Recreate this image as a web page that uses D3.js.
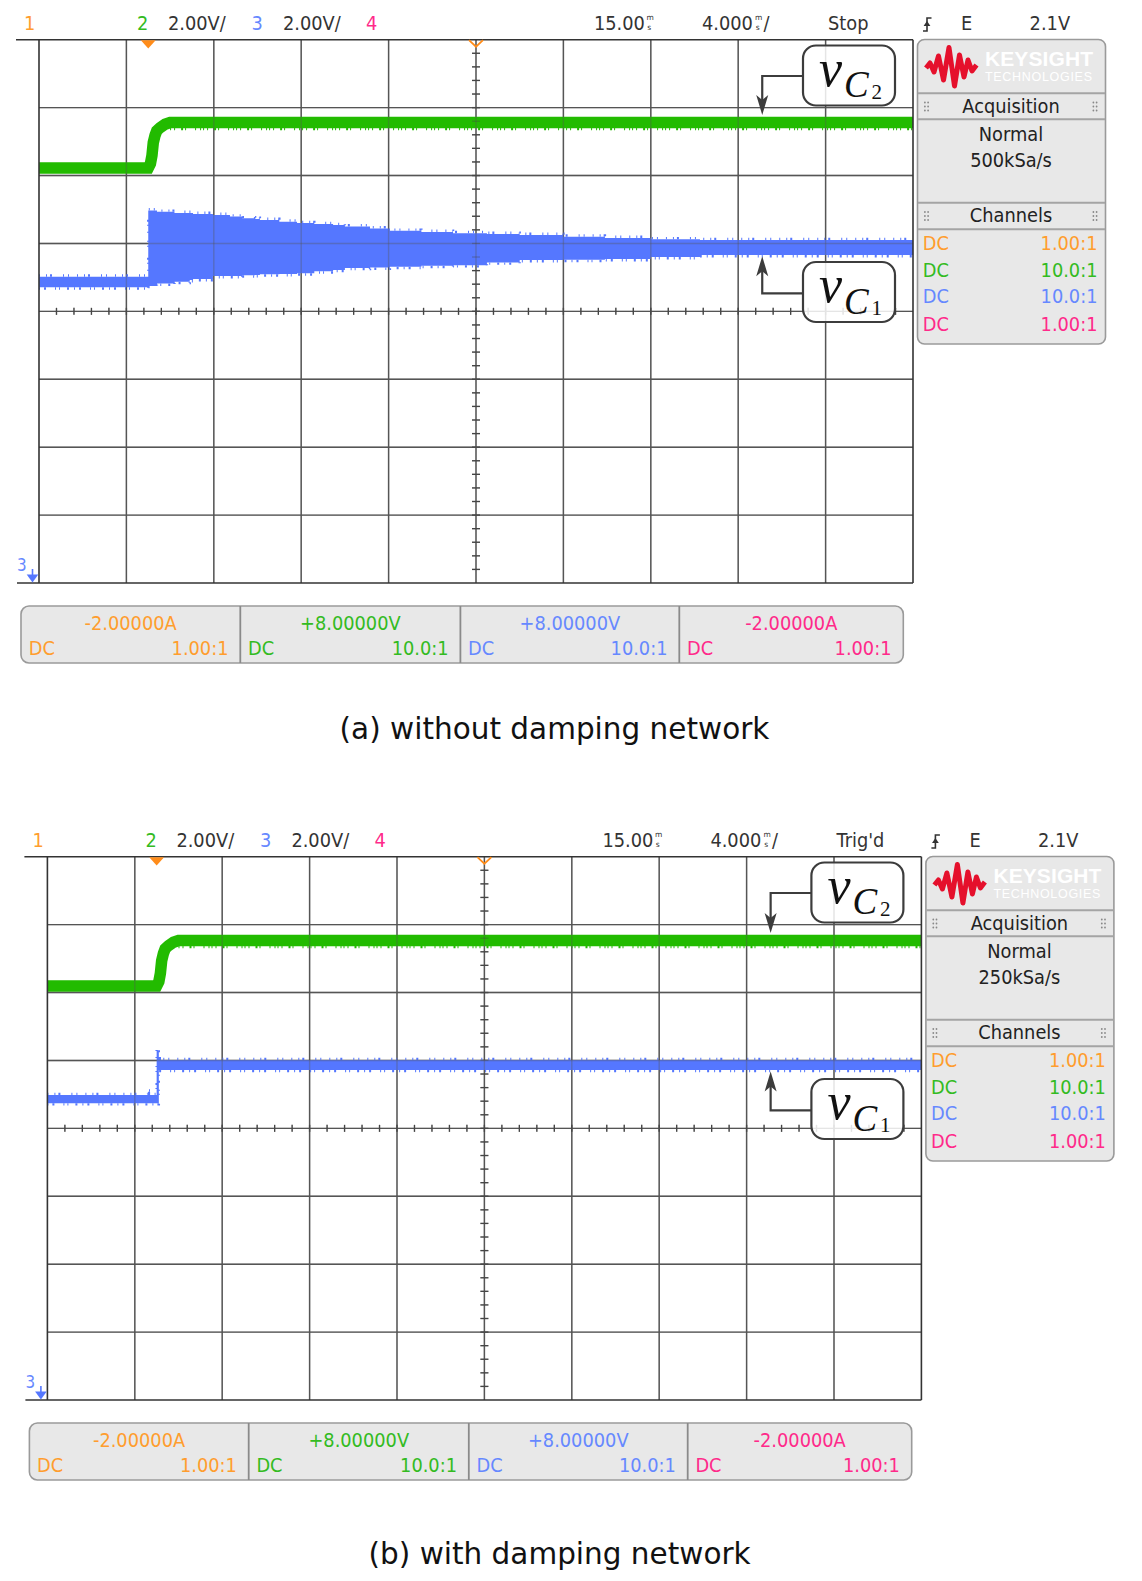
<!DOCTYPE html>
<html>
<head>
<meta charset="utf-8">
<script src="https://cdn.jsdelivr.net/npm/d3@7"></script>
<style>
  body { margin: 0; background: #fff; }
  .scope { font-family: "DejaVu Sans", sans-serif; }
</style>
</head>
<body>
<div class="board"></div>
<script>
// two scope captures, same settings: 4 ms/div (delay 15 ms), ch2/ch3 2 V/div, offset 8 V

var timeDivs = [-5, -1, 3, 7, 11, 15, 19, 23, 27, 31, 35];   // ms
var voltDivs = [0, 2, 4, 6, 8, 10, 12, 14, 16];              // V

// (a) without damping network
var greenT_a = [-5, 0, 0.1, 0.17, 0.23, 0.31, 0.39, 0.54, 0.77, 1.0, 35];
var greenV_a = [12.22, 12.22, 12.35, 12.59, 12.97, 13.18, 13.32, 13.41, 13.51, 13.56, 13.56];
var blueT_a  = [-5, 0, 0.4, 1.2, 1.9, 2.05, 2.96, 3.74, 4.3, 4.89, 5.11, 6.0, 6.81, 7.6, 8.46, 9.0, 10.15, 11.06, 12.5, 13.95, 15.5, 17.0, 19.0, 20.9, 23.0, 25.25, 35];
var blueHi_a = [9.02, 10.97, 10.93, 10.9, 10.9, 10.87, 10.84, 10.79, 10.74, 10.72, 10.69, 10.64, 10.6, 10.57, 10.54, 10.5, 10.44, 10.37, 10.34, 10.3, 10.28, 10.25, 10.2, 10.16, 10.12, 10.1, 10.07];
var blueLo_a = [8.71, 8.75, 8.82, 8.87, 8.92, 8.95, 9.04, 9.04, 9.06, 9.07, 9.09, 9.1, 9.12, 9.18, 9.22, 9.28, 9.29, 9.31, 9.34, 9.36, 9.44, 9.51, 9.52, 9.54, 9.6, 9.66, 9.67];

// (b) with damping network
var greenT_b = [-5, 0, 0.1, 0.17, 0.23, 0.31, 0.39, 0.54, 0.77, 1.0, 35];
var greenV_b = [12.19, 12.19, 12.32, 12.56, 12.94, 13.15, 13.29, 13.38, 13.48, 13.53, 13.53];
var blueT_b  = [-5, -0.4, -0.3, 0, 0.1, 0.2, 35];
var blueHi_b = [8.98, 9.08, 8.98, 10.28, 10.1, 10.01, 10.01];
var blueLo_b = [8.74, 8.74, 8.74, 8.74, 9.72, 9.72, 9.72];

var captions   = ["(a) without damping network", "(b) with damping network"];
var runState   = ["Stop", "Trig'd"];
var sampleRate = ["500kSa/s", "250kSa/s"];
var chanOffset = ["-2.00000A", "+8.00000V", "+8.00000V", "-2.00000A"];
var chanProbe  = ["1.00:1", "10.0:1", "10.0:1", "1.00:1"];
var chanColor  = ["#ff9d2e", "#33bb22", "#6688ff", "#ff2a8a"];

var green = "#22bb00", blue = "#5577ff", orange = "#ff8c1a";

var svg = d3.select(".board").append("svg")
  .attr("width", 1142)
  .attr("height", 1581);

var W = 874, H = 543.3;
var x = d3.scaleLinear().domain([-5, 35]).range([0, W]);
var y = d3.scaleLinear().domain([0, 16]).range([H, 0]);

var screens = [
  {ox: 0, oy: 0, gT: greenT_a, gV: greenV_a, bT: blueT_a, bHi: blueHi_a, bLo: blueLo_a},
  {ox: 8.4, oy: 817, gT: greenT_b, gV: greenV_b, bT: blueT_b, bHi: blueHi_b, bLo: blueLo_b}
];

// scope font is narrow: squeeze dejavu horizontally around the anchor point
function txt(g, xx, yy, str, col, anchor, size) {
  return g.append("text")
    .attr("x", xx).attr("y", yy)
    .attr("transform", "translate(" + xx + ",0) scale(0.89,1) translate(" + (-xx) + ",0)")
    .attr("text-anchor", anchor || "start")
    .attr("font-size", size || 20)
    .attr("fill", col || "#333")
    .text(str);
}

function stacked(g, xx) {   // the little m-over-s unit glyph
  g.append("text").attr("x", xx).attr("y", 20.2).attr("font-size", 7.5).attr("fill", "#333").text("m");
  g.append("text").attr("x", xx + 0.8).attr("y", 30).attr("font-size", 7.5).attr("fill", "#333").text("s");
}

function dots(g, cx, cy) {
  [-1.6, 1.6].forEach(function(dx) {
    [-4, 0, 4].forEach(function(dy) {
      g.append("circle").attr("cx", cx + dx).attr("cy", cy + dy).attr("r", 0.9).attr("fill", "#888");
    });
  });
}

function arrowHead(g, tx, ty, dir) {   // dir 1 = pointing down, -1 = up
  var p = "M" + tx + "," + ty +
    "L" + (tx - 6) + "," + (ty - dir * 20) +
    "L" + tx + "," + (ty - dir * 15) +
    "L" + (tx + 6) + "," + (ty - dir * 20) + "Z";
  g.append("path").attr("d", p).attr("fill", "#3c3c3c");
}

function label(g, bx, by, sub) {
  g.append("rect").attr("x", bx).attr("y", by).attr("width", 92).attr("height", 60)
    .attr("rx", 13).attr("fill", "#fff").attr("fill-opacity", 0.85)
    .attr("stroke", "#3c3c3c").attr("stroke-width", 2.2);
  var t = g.append("g").attr("font-family", "'Liberation Serif', 'DejaVu Serif', serif");
  t.append("text").attr("x", bx + 16).attr("y", by + 40).attr("font-size", 52).attr("font-style", "italic").attr("fill", "#111").text("v");
  t.append("text").attr("x", bx + 41).attr("y", by + 51.7).attr("font-size", 37).attr("font-style", "italic").attr("fill", "#111").text("C");
  t.append("text").attr("x", bx + 68.5).attr("y", by + 53.3).attr("font-size", 21).attr("fill", "#111").text(sub);
}

screens.forEach(function(s, k) {
  var root = svg.append("g").attr("class", "scope")
    .attr("transform", "translate(" + s.ox + "," + s.oy + ")");

  // header line
  var hd = root.append("g");
  txt(hd, 24, 30, "1", chanColor[0]);
  txt(hd, 137, 30, "2", chanColor[1]);
  txt(hd, 168, 30, "2.00V/");
  txt(hd, 251.6, 30, "3", chanColor[2]);
  txt(hd, 283, 30, "2.00V/");
  txt(hd, 366, 30, "4", chanColor[3]);
  txt(hd, 594, 30, "15.00");
  stacked(hd, 646.5);
  txt(hd, 702, 30, "4.000");
  stacked(hd, 755);
  txt(hd, 763.5, 30, "/");
  txt(hd, 828, 30, runState[k]);
  hd.append("path").attr("d", "M923,31h4v-13h4.5M927,18v5")
    .attr("fill", "none").attr("stroke", "#333").attr("stroke-width", 1.6);
  hd.append("path").attr("d", "M923.6,26l3.4,-5l3.4,5z").attr("fill", "#333");
  txt(hd, 961, 30, "E");
  txt(hd, 1029.6, 30, "2.1V");

  // screen
  var plot = root.append("g").attr("transform", "translate(39,39.7)");
  var clipId = "clip" + k;
  plot.append("clipPath").attr("id", clipId).append("rect").attr("width", W).attr("height", H);

  function drawGrid(g, op) {
    g.selectAll(".vl").data(timeDivs.slice(1, -1)).enter().append("line")
      .attr("x1", function(d) { return x(d); }).attr("x2", function(d) { return x(d); })
      .attr("y1", 0).attr("y2", H)
      .attr("stroke", "#555").attr("stroke-width", 1.4).attr("opacity", op);
    g.selectAll(".hl").data(voltDivs.slice(1, -1)).enter().append("line")
      .attr("y1", function(d) { return y(d); }).attr("y2", function(d) { return y(d); })
      .attr("x1", 0).attr("x2", W)
      .attr("stroke", "#555").attr("stroke-width", 1.4).attr("opacity", op);
    g.selectAll(".vt").data(d3.range(0.4, 16, 0.4)).enter().append("line")
      .attr("x1", x(15) - 4).attr("x2", x(15) + 4)
      .attr("y1", function(d) { return y(d); }).attr("y2", function(d) { return y(d); })
      .attr("stroke", "#444").attr("stroke-width", 1.3).attr("opacity", op);
    g.selectAll(".ht").data(d3.range(-4.2, 35, 0.8)).enter().append("line")
      .attr("y1", y(8) - 3.5).attr("y2", y(8) + 3.5)
      .attr("x1", function(d) { return x(d); }).attr("x2", function(d) { return x(d); })
      .attr("stroke", "#444").attr("stroke-width", 1.3).attr("opacity", op);
  }

  drawGrid(plot.append("g"), 1);

  var traces = plot.append("g").attr("clip-path", "url(#" + clipId + ")");

  var blueData = s.bT.map(function(t, i) { return {t: t, hi: s.bHi[i], lo: s.bLo[i]}; });
  var area = d3.area().curve(d3.curveStepAfter)
    .x(function(d) { return x(d.t); })
    .y0(function(d) { return y(d.lo); })
    .y1(function(d) { return y(d.hi); });
  traces.append("path").datum(blueData).attr("d", area).attr("fill", blue);
  var hiEdge = d3.line().curve(d3.curveStepAfter)
    .x(function(d) { return x(d.t); }).y(function(d) { return y(d.hi) - 1.2; });
  var loEdge = d3.line().curve(d3.curveStepAfter)
    .x(function(d) { return x(d.t); }).y(function(d) { return y(d.lo) + 1.2; });
  traces.append("path").datum(blueData).attr("d", hiEdge)
    .attr("fill", "none").attr("stroke", blue).attr("stroke-width", 2.4)
    .attr("stroke-dasharray", "1 6 1 3 2 11 1 4 1 8");
  traces.append("path").datum(blueData).attr("d", loEdge)
    .attr("fill", "none").attr("stroke", blue).attr("stroke-width", 2.4)
    .attr("stroke-dasharray", "1 4 2 9 1 3 1 7 2 5");

  var greenData = s.gT.map(function(t, i) { return {t: t, v: s.gV[i]}; });
  var gLine = d3.line().x(function(d) { return x(d.t); }).y(function(d) { return y(d.v); });
  traces.append("path").datum(greenData).attr("d", gLine)
    .attr("fill", "none").attr("stroke", green).attr("stroke-width", 11.5);
  var gEdge = d3.line().x(function(d) { return x(d.t); }).y(function(d) { return y(d.v) + 6.6; });
  traces.append("path").datum(greenData.filter(function(d) { return d.t >= 1; })).attr("d", gEdge)
    .attr("fill", "none").attr("stroke", green).attr("stroke-width", 2.4)
    .attr("stroke-dasharray", "1 3 1 6 2 2 1 9 1 4 1 2");

  drawGrid(plot.append("g"), 0.35);

  // frame
  var fr = plot.append("g").attr("stroke", "#333").attr("stroke-width", 1.6);
  fr.append("line").attr("x1", -23).attr("x2", W).attr("y1", 0).attr("y2", 0);
  fr.append("line").attr("x1", -22).attr("x2", W).attr("y1", H).attr("y2", H);
  fr.append("line").attr("x1", 0).attr("x2", 0).attr("y1", 0).attr("y2", H);
  fr.append("line").attr("x1", W).attr("x2", W).attr("y1", 0).attr("y2", H);

  // trigger point and time reference markers
  plot.append("path").attr("d", "M" + (x(0) - 7.4) + ",0.5h14.8l-7.4,8.3z").attr("fill", orange);
  plot.append("path").attr("d", "M" + (x(15) - 7) + ",0.5l7,6.5l7,-6.5")
    .attr("fill", "none").attr("stroke", orange).attr("stroke-width", 1.8);

  // ground marker of ch3 (off screen below)
  txt(plot, -22, H - 11.5, "3", chanColor[2], "start", 17);
  plot.append("path").attr("d", "M-6.5," + (H - 14) + "v6").attr("stroke", blue).attr("stroke-width", 1.6);
  plot.append("path").attr("d", "M-12.3," + (H - 8.5) + "h11.6l-5.8,8z").attr("fill", blue);

  // annotations
  var an = root.append("g").attr("stroke-linejoin", "miter");
  var tip2 = y(s.gV[s.gV.length - 1]) + 39.7 - 7.5;
  var tip1 = y(s.bLo[s.bLo.length - 1]) + 39.7 + 1.5;
  var ax = x(28.1) + 39;
  an.append("path").attr("d", "M803,76H" + ax + "V" + (tip2 - 12))
    .attr("fill", "none").attr("stroke", "#3c3c3c").attr("stroke-width", 2.2);
  arrowHead(an, ax, tip2, 1);
  an.append("path").attr("d", "M803,293.3H" + ax + "V" + (tip1 + 12))
    .attr("fill", "none").attr("stroke", "#3c3c3c").attr("stroke-width", 2.2);
  arrowHead(an, ax, tip1, -1);
  label(an, 803, 45.5, "2");
  label(an, 803, 262, "1");

  // right info panel
  var pn = root.append("g");
  pn.append("rect").attr("x", 917.5).attr("y", 39.5).attr("width", 188).attr("height", 304.5)
    .attr("rx", 7).attr("fill", "#e8e8e8").attr("stroke", "#9a9a9a").attr("stroke-width", 1.6);
  [93.3, 119.3, 202.7, 229.3].forEach(function(yy) {
    pn.append("line").attr("x1", 918).attr("x2", 1105).attr("y1", yy).attr("y2", yy)
      .attr("stroke", "#a4a4a4").attr("stroke-width", 2);
  });
  pn.append("path")
    .attr("d", "M926,68L930,63L934,72L938.5,56L943.5,80L949,47.5L954.5,86L959.5,55L964,77L968,60L972,71L976.5,65")
    .attr("fill", "none").attr("stroke", "#e5102c").attr("stroke-width", 5).attr("stroke-linejoin", "round");
  pn.append("text").attr("x", 985).attr("y", 65.5).attr("font-family", "'Liberation Sans', Arial, sans-serif")
    .attr("font-weight", "bold").attr("font-size", 21).attr("textLength", 108).attr("fill", "#fff").text("KEYSIGHT");
  pn.append("text").attr("x", 985).attr("y", 80.7).attr("font-family", "'Liberation Sans', Arial, sans-serif")
    .attr("font-size", 12.5).attr("textLength", 107).attr("fill", "#fff").text("TECHNOLOGIES");
  txt(pn, 1011, 113, "Acquisition", "#222", "middle");
  txt(pn, 1011, 140.7, "Normal", "#222", "middle");
  txt(pn, 1011, 167.3, sampleRate[k], "#222", "middle");
  txt(pn, 1011, 222.5, "Channels", "#222", "middle");
  dots(pn, 926.5, 106.5); dots(pn, 1095, 106.5);
  dots(pn, 926.5, 216); dots(pn, 1095, 216);
  var rowY = [250, 276.7, 303.3, 331];
  chanProbe.forEach(function(p, i) {
    txt(pn, 922.7, rowY[i], "DC", chanColor[i]);
    txt(pn, 1097.5, rowY[i], p, chanColor[i], "end");
  });

  // bottom channel bar
  var bb = root.append("g");
  var cellX = [21, 240.3, 460.4, 679.3, 903.3];
  bb.append("rect").attr("x", 21).attr("y", 606).attr("width", 882.3).attr("height", 57)
    .attr("rx", 8).attr("fill", "#e8e8e8").attr("stroke", "#9a9a9a").attr("stroke-width", 1.6);
  cellX.slice(1, -1).forEach(function(cx) {
    bb.append("line").attr("x1", cx).attr("x2", cx).attr("y1", 606).attr("y2", 663)
      .attr("stroke", "#8a8a8a").attr("stroke-width", 1.8);
  });
  chanOffset.forEach(function(o, i) {
    var l = cellX[i], r = cellX[i + 1];
    txt(bb, (l + r) / 2, 630, o, chanColor[i], "middle");
    txt(bb, l + 7.7, 655.5, "DC", chanColor[i]);
    txt(bb, r - 11.8, 655.5, chanProbe[i], chanColor[i], "end");
  });
});

// figure captions
svg.append("text").attr("x", 554.5).attr("y", 739).attr("text-anchor", "middle")
  .attr("font-family", "'DejaVu Sans', sans-serif").attr("font-size", 29.5).attr("fill", "#111")
  .text(captions[0]);
svg.append("text").attr("x", 559.6).attr("y", 1564).attr("text-anchor", "middle")
  .attr("font-family", "'DejaVu Sans', sans-serif").attr("font-size", 29.5).attr("fill", "#111")
  .text(captions[1]);
</script>
</body>
</html>
